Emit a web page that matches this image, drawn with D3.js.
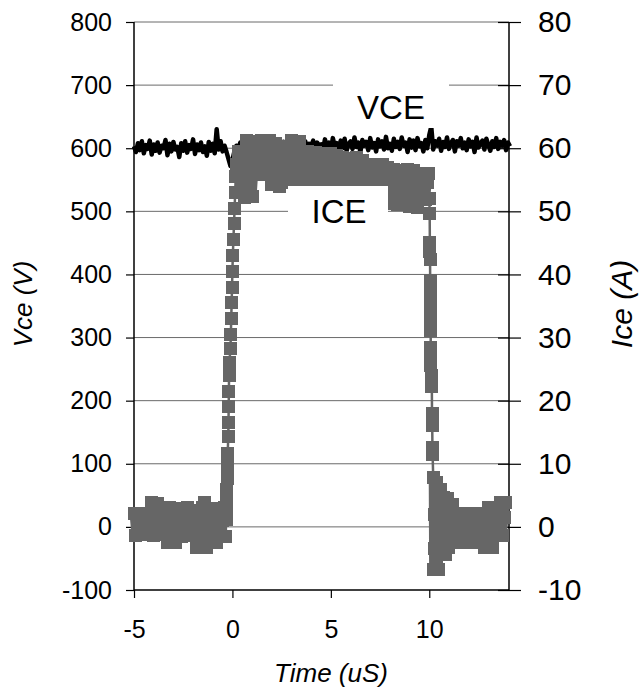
<!DOCTYPE html>
<html>
<head>
<meta charset="utf-8">
<script src="https://cdn.jsdelivr.net/npm/d3@7"></script>
<style>
  body { margin: 0; background: #fff; }
  text { font-family: "Liberation Sans", Arial, sans-serif; fill: #000; }
</style>
</head>
<body>
<svg id="chart" width="639" height="690"></svg>
<script>
// tick labels
var vTicks = [-100, 0, 100, 200, 300, 400, 500, 600, 700, 800];
var aTicks = [-10, 0, 10, 20, 30, 40, 50, 60, 70, 80];
var tTicks = [-5, 0, 5, 10];

// VCE trace, sampled every 0.1 uS from -5 uS
var vceStart = -5, vceStep = 0.1;
var vce = [
  603, 594, 608, 597, 611, 592, 605, 599, 612, 590,
  606, 596, 609, 593, 604, 600, 613, 589, 607, 595,
  610, 598, 602, 586, 608, 596, 611, 593, 605, 599,
  614, 591, 606, 597, 609, 594, 603, 588, 610, 596,
  607, 592, 630, 598, 611, 595, 604,
  594, 583, 572, 581, 595,
  604, 598, 609, 601, 611, 599, 606, 602, 610, 598,
  607, 603, 611, 600, 605, 609, 599, 610, 602, 606,
  611, 598, 608, 603, 610, 600, 607, 611, 601, 606,
  609, 599, 610, 604, 608, 611, 600, 607, 603, 612,
  598, 609, 604,
  606, 597, 614, 601, 609, 595, 616, 603, 608, 598,
  612, 600, 615, 596, 607, 611, 599, 617, 602, 609,
  594, 613, 604, 610, 597, 616, 601, 608, 595, 614,
  603, 611, 598, 618, 600, 607, 596, 615, 602, 610,
  599, 617, 604, 609, 594, 614, 601, 612, 597, 616,
  603, 608, 595, 613, 600, 621, 634, 598, 611, 604,
  615, 596, 610, 602, 617, 599, 608, 613, 595, 611,
  604, 616, 600, 609, 597, 614, 603, 610, 594, 617,
  601, 608, 612, 598, 615, 605, 596, 611, 602, 616,
  599, 610, 604, 613, 597, 609, 603
];

// ICE trace (uS, A)
var iceTime = [
  // off state
  -5.0, -4.9, -4.8, -4.7, -4.6, -4.5, -4.4, -4.3, -4.2, -4.1,
  -4.0, -3.9, -3.8, -3.7, -3.6, -3.5, -3.4, -3.3, -3.2, -3.1,
  -3.0, -2.9, -2.8, -2.7, -2.6, -2.5, -2.4, -2.3, -2.2, -2.1,
  -2.0, -1.9, -1.8, -1.7, -1.6, -1.5, -1.4, -1.3, -1.2, -1.1,
  -1.0, -0.9, -0.8, -0.7, -0.6, -0.5, -0.4,
  // turn on
  -0.34, -0.32, -0.30, -0.29, -0.28, -0.27, -0.26, -0.25, -0.24,
  -0.21, -0.20, -0.19, -0.18, -0.17, -0.16,
  -0.10, -0.08, -0.06, -0.04, -0.02, 0.0, 0.02, 0.05, 0.08, 0.11, 0.14, 0.17, 0.20,
  // on state
  0.3, 0.4, 0.5, 0.6, 0.7, 0.8, 0.9, 1.0, 1.1, 1.2,
  1.3, 1.4, 1.5, 1.6, 1.7, 1.8, 1.9, 2.0, 2.1, 2.2,
  2.3, 2.4, 2.5, 2.6, 2.7, 2.8, 2.9, 3.0, 3.1, 3.2,
  3.3, 3.4, 3.5, 3.6, 3.7, 3.8, 3.9, 4.0, 4.1, 4.2,
  4.3, 4.4, 4.5, 4.6, 4.7, 4.8, 4.9, 5.0, 5.1, 5.2,
  5.3, 5.4, 5.5, 5.6, 5.7, 5.8, 5.9, 6.0, 6.1, 6.2,
  6.3, 6.4, 6.5, 6.6, 6.7, 6.8, 6.9, 7.0, 7.1, 7.2,
  7.3, 7.4, 7.5, 7.6, 7.7, 7.8, 7.9, 8.0, 8.1, 8.2,
  8.3, 8.4, 8.5, 8.6, 8.7, 8.8, 8.9, 9.0, 9.1, 9.2,
  9.3, 9.4, 9.5, 9.6, 9.7, 9.8, 9.9, 9.95,
  // turn off
  10.0, 10.02, 10.03, 10.035, 10.04, 10.045, 10.05, 10.055, 10.06, 10.065,
  10.07, 10.075, 10.08, 10.085, 10.12, 10.13, 10.14, 10.15, 10.16, 10.17,
  // ringing
  10.2, 10.22, 10.25, 10.28, 10.3, 10.33, 10.36, 10.39, 10.42, 10.45,
  10.48, 10.51, 10.55, 10.6, 10.65, 10.7, 10.75, 10.8, 10.85, 10.9,
  10.95, 11.0, 11.1, 11.2, 11.3, 11.4, 11.5, 11.6, 11.7, 11.8,
  11.9, 12.0, 12.1, 12.2, 12.3, 12.4, 12.5, 12.6, 12.7, 12.8,
  12.9, 13.0, 13.1, 13.2, 13.3, 13.4, 13.5, 13.6, 13.7, 13.8, 13.85
];
var iceAmps = [
  2.2, -1.3, 0.6, 1.9, -0.7, 1.2, -1.2, 2.1, 0.1, 3.8,
  -1.3, 1.5, 3.7, -0.4, 2.3, -1.2, 0.9, -2.5, 3.0, -0.8,
  1.8, -2.4, 0.3, 2.9, -1.6, 1.1, -1.3, 3.0, -0.2, 1.7,
  -1.2, 2.6, -3.3, 0.8, -2.0, 3.0, 3.8, -3.2, 1.4, -2.5,
  2.9, -0.6, -2.4, 2.8, -1.4, 1.0, 3.0,
  -1.5, 1.2, 2.8, 4.4, 6.0, 7.6, 9.1, 10.7, 11.7,
  14.4, 16.5, 19, 21.5, 24, 26,
  28.2, 30.5, 33, 35.5, 38, 40.5, 43, 45.5, 48, 50.5, 53, 55.5, 57.5,
  59.5, 53.0, 57.5, 52.2, 61.2, 55.0, 59.0, 52.4, 57.0, 61.0,
  58.0, 55.8, 61.2, 57.5, 59.5, 55.9, 61.2, 54.2, 58.5, 60.8,
  56.0, 54.0, 60.2, 57.5, 55.0, 59.8, 54.5, 61.2, 57.0, 59.0,
  55.0, 61.0, 56.5, 58.5, 54.5, 59.5, 56.0, 58.0, 54.5, 59.4,
  56.5, 55.0, 59.1, 57.0, 54.5, 58.5, 56.0, 59.1, 55.0, 57.5,
  58.8, 54.5, 56.5, 58.5, 55.0, 57.5, 54.5, 58.3, 56.0, 55.0,
  58.5, 56.5, 54.5, 58.0, 55.5, 57.0, 54.0, 57.4, 55.5, 54.0,
  57.3, 56.0, 54.0, 57.4, 55.0, 53.5, 57.0, 51.2, 54.0, 56.6,
  52.5, 51.1, 55.0, 56.5, 51.5, 53.5, 56.6, 50.7, 54.5, 56.5,
  52.0, 50.6, 55.5, 53.5, 56.0, 51.9, 54.5, 56.0,
  52, 49.7, 45, 43.7, 42.4, 39, 37.4, 35.8, 34.2, 32.6,
  31.1, 28.4, 26.8, 25.6, 24, 22.2, 18, 16.1, 12.6, 11.4,
  7.9, -6.8, 2.0, -3.5, 5.5, -1.0, 7.0, -5.5, 0.5, -6.8,
  3.5, -2.5, 6.0, -4.4, 1.5, 4.7, -2.0, -4.4, 2.8, 0.0,
  4.5, -3.3, 1.5, 3.5, -1.0, -2.5, 2.2, 0.2, -2.5, 1.2,
  2.2, -1.4, -2.5, 0.8, 2.2, -0.5, -2.5, 1.5, 2.2, -3.3,
  0.5, 3.0, -1.8, -3.3, 1.8, 3.0, -0.5, 3.8, -1.3, 1.5, 3.8
];

var svg = d3.select("#chart");
var plotL = 134, plotR = 509, plotT = 22, plotB = 590;

var x = d3.scaleLinear().domain([-5, 14.05]).range([plotL, plotR]);
var yV = d3.scaleLinear().domain([-100, 800]).range([plotB, plotT]);
var yA = d3.scaleLinear().domain([-10, 80]).range([plotB, plotT]);
var fmt = function(d) { return String(d); };

// gridlines
svg.append("g")
  .selectAll("line")
  .data(vTicks.filter(function(d) { return d > -100; }))
  .enter()
  .append("line")
  .attr("x1", plotL).attr("x2", plotR)
  .attr("y1", function(d) { return yV(d); })
  .attr("y2", function(d) { return yV(d); })
  .attr("stroke", "#6a6a6a")
  .attr("stroke-width", 1);

// axes
var gL = svg.append("g").attr("transform", "translate(" + plotL + ",0)")
  .call(d3.axisLeft(yV).tickValues(vTicks).tickFormat(fmt).tickSize(8).tickPadding(14));
var gR = svg.append("g").attr("transform", "translate(" + plotR + ",0)")
  .call(d3.axisRight(yA).tickValues(aTicks).tickFormat(fmt).tickSize(12).tickPadding(17));
gR.selectAll(".tick line").attr("x1", -11);
var gB = svg.append("g").attr("transform", "translate(0," + plotB + ")")
  .call(d3.axisBottom(x).tickValues(tTicks).tickFormat(fmt).tickSize(8).tickPadding(22));

[gL, gR, gB].forEach(function(g) {
  g.select(".domain").attr("stroke", "#000").attr("stroke-width", 1.5);
  g.selectAll(".tick line").attr("stroke", "#000").attr("stroke-width", 1.2);
  g.selectAll(".tick text").style("font-family", "Liberation Sans, Arial, sans-serif").attr("fill", "#000");
});
gL.select(".domain").attr("d", "M0," + plotB + "V" + plotT);
gR.select(".domain").attr("d", "M0," + plotB + "V" + plotT);
gB.select(".domain").attr("d", "M" + plotL + ",0H" + plotR);
gL.selectAll(".tick text").style("font-size", "25px");
gR.selectAll(".tick text").style("font-size", "30px");
gB.selectAll(".tick text").style("font-size", "25px").attr("dy", "0.72em");

// VCE
var vcePts = vce.map(function(v, i) { return [vceStart + i * vceStep, v]; });
svg.append("path")
  .datum(vcePts)
  .attr("fill", "none")
  .attr("stroke", "#000")
  .attr("stroke-width", 4.5)
  .attr("stroke-linejoin", "round")
  .attr("d", d3.line()
    .x(function(d) { return x(d[0]); })
    .y(function(d) { return yV(d[1]); }));

// ICE
var icePts = iceTime.map(function(t, i) { return [t, iceAmps[i]]; });
var iceLine = d3.line()
  .x(function(d) { return x(d[0]); })
  .y(function(d) { return yA(d[1]); });
svg.append("path")
  .datum(icePts)
  .attr("fill", "none")
  .attr("stroke", "#666")
  .attr("stroke-width", 2.5)
  .attr("d", iceLine);
// steady-state noise is so dense the markers merge into a solid band
var noisy = function(d) { return d[0] < -0.35 || (d[0] > 0.25 && d[0] < 9.97) || d[0] > 10.19; };
svg.append("path")
  .datum(icePts)
  .attr("fill", "none")
  .attr("stroke", "#666")
  .attr("stroke-width", 9)
  .attr("stroke-linejoin", "round")
  .attr("d", iceLine.defined(noisy));
svg.append("g")
  .attr("shape-rendering", "crispEdges")
  .selectAll("rect")
  .data(icePts)
  .enter()
  .append("rect")
  .attr("x", function(d) { return x(d[0]) - 6.5; })
  .attr("y", function(d) { return yA(d[1]) - 6.5; })
  .attr("width", 13)
  .attr("height", 13)
  .attr("fill", "#666");

// series labels
svg.append("rect").attr("x", 333).attr("y", 78).attr("width", 116).attr("height", 50).attr("fill", "#fff");
svg.append("text").attr("x", 391).attr("y", 119).attr("text-anchor", "middle")
  .style("font-size", "33px").text("VCE");
svg.append("rect").attr("x", 288).attr("y", 186).attr("width", 100).attr("height", 50).attr("fill", "#fff");
svg.append("text").attr("x", 339).attr("y", 223).attr("text-anchor", "middle")
  .style("font-size", "33px").text("ICE");

// axis titles
svg.append("text").attr("transform", "translate(32,304) rotate(-90)").attr("text-anchor", "middle")
  .style("font-size", "26px").style("font-style", "italic").text("Vce (V)");
svg.append("text").attr("transform", "translate(632,304) rotate(-90)").attr("text-anchor", "middle")
  .style("font-size", "30px").style("font-style", "italic").text("Ice (A)");
svg.append("text").attr("x", 331).attr("y", 682).attr("text-anchor", "middle")
  .style("font-size", "26px").style("font-style", "italic").text("Time (uS)");
</script>
</body>
</html>
